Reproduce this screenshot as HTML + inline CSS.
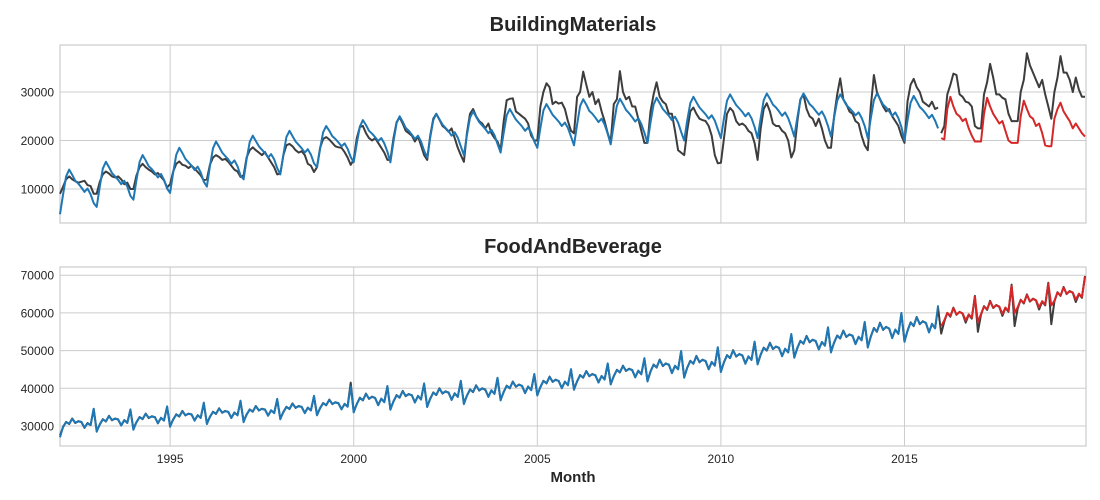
<!DOCTYPE html>
<html><head><meta charset="utf-8"><style>
html,body{margin:0;padding:0;background:#fff;}
svg{display:block;font-family:"Liberation Sans",sans-serif;}
</style></head><body>
<svg id="chart" width="1100" height="500"></svg>
<script>
const years=[1992,1995,2000,2005,2010,2015];
const xTickLabels=["1995","2000","2005","2010","2015"];
const xTickYears=[1995,2000,2005,2010,2015];
const topTicks=[10000,20000,30000];
const botTicks=[30000,40000,50000,60000,70000];
// BuildingMaterials (thousands), monthly from 1992-01
const bmActual=[
9.0,10.5,12.0,12.6,12.0,11.6,11.3,11.5,11.7,10.8,10.6,9.0,
9.0,11.5,13.0,13.6,13.2,12.6,12.4,12.6,12.0,11.0,11.3,10.0,
10.0,12.8,14.5,15.2,14.5,14.0,13.6,13.0,13.3,12.5,11.8,10.3,
11.0,13.6,15.2,15.7,15.0,14.8,14.3,14.8,14.2,13.5,12.8,11.8,
12.0,15.0,16.5,17.0,16.6,16.0,16.2,15.6,14.8,14.0,13.6,12.5,
12.8,16.5,18.0,18.6,18.0,17.5,17.0,17.6,16.5,15.5,14.5,13.0,
13.2,17.0,19.0,19.3,18.8,18.0,17.5,17.8,17.0,15.2,14.8,13.5,
14.5,18.5,20.3,20.7,20.2,19.5,18.8,18.6,18.5,17.6,16.5,15.0,
16.0,20.5,22.8,23.0,21.5,20.5,20.0,20.5,19.5,18.5,17.5,16.0,
16.0,20.5,23.8,24.8,23.5,22.0,21.5,21.0,19.8,20.8,19.0,17.0,
16.0,21.0,24.5,25.5,24.3,23.0,22.5,21.8,22.5,20.5,18.5,17.0,
15.6,21.5,25.5,26.5,25.0,24.0,23.5,22.5,23.5,21.5,20.5,19.8,
18.0,24.0,28.3,28.6,28.7,26.0,25.5,25.0,24.5,23.5,21.0,20.0,
20.0,27.0,30.0,31.8,31.0,27.5,28.0,27.6,27.8,26.5,24.0,22.0,
21.5,29.0,30.0,34.2,31.5,29.0,30.0,27.5,28.5,26.0,24.0,21.5,
19.7,27.5,28.5,34.3,30.0,28.5,29.0,27.0,27.0,24.5,22.0,19.5,
19.5,26.0,29.5,32.0,29.0,28.0,27.5,25.5,25.5,22.0,18.0,17.5,
17.0,22.0,26.0,26.8,25.5,24.5,24.2,24.0,23.0,21.0,17.0,15.3,
15.4,20.5,25.5,26.7,26.0,24.0,23.2,23.5,23.0,22.0,21.5,19.5,
16.0,22.5,26.5,27.7,26.0,23.5,23.0,23.0,22.0,21.5,20.0,16.5,
18.0,24.0,28.5,29.5,26.5,25.0,24.5,23.0,24.5,22.5,20.0,18.5,
18.5,25.0,29.5,32.8,28.5,27.5,26.0,25.5,24.0,23.5,21.0,19.0,
18.0,27.0,33.5,30.0,28.5,27.0,26.0,26.5,25.0,24.0,23.0,21.0,
19.5,28.0,31.5,32.7,31.0,30.0,28.0,27.5,27.0,28.0,26.5,26.8,
21.5,23.0,29.5,31.5,33.8,33.5,29.5,29.0,28.0,27.8,27.0,23.0,
22.5,22.5,29.5,32.0,35.8,33.0,29.5,29.5,28.8,28.5,25.5,24.0,
24.0,24.0,30.0,32.5,38.0,35.5,34.0,32.5,31.0,32.5,29.5,27.0,
24.5,30.0,33.0,37.4,34.0,34.0,32.5,30.0,33.0,30.5,29.0,29.0];
const bmFitted=[
4.8,8.9,12.6,14.0,12.9,11.7,11.1,10.3,9.4,10.1,8.9,7.1,
6.3,10.5,14.2,15.6,14.5,13.3,12.6,11.9,11.0,11.7,10.5,8.6,
7.8,11.9,15.6,17.0,15.9,14.7,14.1,13.3,12.4,13.1,11.9,10.1,
9.2,13.4,17.1,18.5,17.4,16.2,15.5,14.8,13.9,14.6,13.4,11.5,
10.5,14.7,18.4,19.8,18.7,17.5,16.8,16.1,15.2,15.9,14.7,12.8,
12.0,16.1,19.7,21.0,19.9,18.8,18.1,17.4,16.5,17.2,16.1,14.3,
13.0,17.1,20.7,22.0,20.9,19.8,19.1,18.4,17.5,18.2,17.1,15.3,
14.5,18.3,21.7,23.0,22.0,20.9,20.3,19.6,18.8,19.4,18.3,16.6,
15.5,19.4,22.9,24.2,23.2,22.0,21.4,20.7,19.9,20.5,19.4,17.7,
15.5,19.8,23.6,25.0,23.9,22.6,22.0,21.2,20.3,21.0,19.8,17.9,
16.5,20.6,24.2,25.5,24.4,23.3,22.6,21.9,21.0,21.7,20.6,18.8,
17.0,21.1,24.7,26.0,24.9,23.8,23.1,22.4,21.5,22.2,21.1,19.3,
17.5,21.6,25.2,26.5,25.4,24.3,23.6,22.9,22.0,22.7,21.6,19.8,
18.5,22.6,26.2,27.5,26.4,25.3,24.6,23.9,23.0,23.7,22.6,20.8,
19.0,23.3,27.1,28.5,27.4,26.1,25.5,24.7,23.8,24.5,23.3,21.4,
19.2,23.4,27.2,28.6,27.5,26.3,25.6,24.8,23.9,24.6,23.4,21.6,
19.5,23.7,27.4,28.8,27.7,26.5,25.8,25.1,24.2,24.9,23.7,21.8,
20.0,24.1,27.7,29.0,27.9,26.8,26.1,25.4,24.5,25.2,24.1,22.3,
20.5,24.6,28.2,29.5,28.4,27.3,26.6,25.9,25.0,25.7,24.6,22.8,
20.5,24.6,28.3,29.7,28.6,27.4,26.8,26.0,25.1,25.8,24.6,22.8,
20.8,24.8,28.4,29.7,28.6,27.5,26.9,26.1,25.3,26.0,24.8,23.0,
20.8,24.7,28.2,29.5,28.5,27.3,26.7,26.0,25.2,25.8,24.7,23.0,
20.5,24.6,28.3,29.7,28.6,27.4,26.8,26.0,25.1,25.8,24.6,22.8,
20.0,24.1,27.8,29.2,28.1,26.9,26.3,25.5,24.6,25.3,24.1,22.5];
const bmForecast=[
20.5,20.2,26.5,29.0,27.0,25.5,25.0,24.0,24.5,22.5,21.0,19.8,
19.8,19.8,25.5,28.8,27.0,25.5,24.5,23.5,24.0,22.0,20.0,19.5,
19.5,19.5,25.0,28.2,26.5,25.0,24.5,23.0,23.5,21.5,19.0,18.8,
18.8,24.5,26.5,27.8,26.0,25.0,24.0,22.5,23.5,22.5,21.5,20.8];
// FoodAndBeverage (thousands)
const fbActual=[
27.5,29.7,31.1,30.5,32.0,30.8,31.3,31.0,29.5,30.8,30.2,34.5,
28.7,30.4,31.8,31.2,32.7,31.5,32.0,31.7,30.2,31.5,30.9,34.2,
29.3,31.0,32.4,31.8,33.3,32.1,32.6,32.3,30.8,32.1,31.5,35.0,
30.0,31.7,33.1,32.5,34.0,32.8,33.3,33.0,31.5,32.8,32.2,36.0,
30.7,32.4,33.8,33.2,34.7,33.5,34.0,33.7,32.2,33.5,32.9,36.5,
31.3,33.0,34.4,33.8,35.3,34.1,34.6,34.3,32.8,34.1,33.5,37.0,
32.0,33.7,35.1,34.5,36.0,34.8,35.3,35.0,33.5,34.8,34.2,37.8,
33.0,34.7,36.1,35.5,37.0,35.8,36.3,36.0,34.5,35.8,35.2,41.5,
33.8,35.8,37.5,36.8,38.6,37.2,37.8,37.4,35.6,37.2,36.4,40.4,
34.5,36.5,38.2,37.5,39.3,37.9,38.5,38.1,36.3,37.9,37.1,41.1,
35.2,37.2,38.9,38.2,40.0,38.6,39.2,38.8,37.0,38.6,37.8,41.8,
36.0,38.0,39.7,39.0,40.8,39.4,40.0,39.6,37.8,39.4,38.6,42.6,
37.0,39.0,40.7,40.0,41.8,40.4,41.0,40.6,38.8,40.4,39.6,43.6,
38.3,40.3,42.0,41.3,43.1,41.7,42.3,41.9,40.1,41.7,40.9,44.9,
39.8,41.8,43.5,42.8,44.6,43.2,43.8,43.4,41.6,43.2,42.4,46.4,
41.2,43.2,44.9,44.2,46.0,44.6,45.2,44.8,43.0,44.6,43.8,47.8,
42.0,44.4,46.3,45.5,47.6,45.9,46.6,46.2,44.1,45.9,45.1,49.7,
43.0,45.4,47.3,46.5,48.6,46.9,47.6,47.2,45.1,46.9,46.1,50.7,
44.5,46.9,48.8,48.0,50.1,48.4,49.1,48.7,46.6,48.4,47.6,52.2,
46.5,48.9,50.8,50.0,52.1,50.4,51.1,50.7,48.6,50.4,49.6,54.2,
48.3,50.7,52.6,51.8,53.9,52.2,52.9,52.5,50.4,52.2,51.4,56.0,
49.7,52.1,54.0,53.2,55.3,53.6,54.3,53.9,51.8,53.6,52.8,57.4,
51.0,53.7,56.0,55.0,57.4,55.5,56.3,55.8,53.4,55.5,54.5,59.8,
52.5,55.2,57.5,56.5,58.9,57.0,57.8,57.3,54.9,57.0,56.0,61.3,
54.5,57.7,60.0,59.0,61.4,59.5,60.3,59.8,57.4,59.5,58.5,64.5,
55.0,59.5,61.8,60.8,63.2,61.3,62.1,61.6,59.2,61.3,60.3,67.5,
56.5,61.2,63.5,62.5,64.9,63.0,63.8,63.3,60.9,63.0,62.0,68.0,
57.0,63.0,65.5,64.5,66.9,65.0,65.8,65.3,62.9,65.0,64.0,69.8];
const fbFitted=[
27.0,29.9,31.0,30.6,31.9,30.9,31.2,31.1,29.6,30.7,30.3,34.6,
28.5,30.5,31.7,31.3,32.6,31.6,31.9,31.8,30.1,31.6,30.8,34.4,
29.0,31.1,32.3,31.9,33.2,32.2,32.5,32.4,30.7,32.2,31.4,35.2,
29.8,31.8,33.0,32.6,33.9,32.9,33.2,33.1,31.4,32.9,32.1,36.2,
30.5,32.5,33.7,33.3,34.6,33.6,33.9,33.8,32.1,33.6,32.8,36.7,
31.0,33.1,34.3,33.9,35.2,34.2,34.5,34.4,32.7,34.2,33.4,37.2,
31.8,33.8,35.0,34.6,35.9,34.9,35.2,35.1,33.4,34.9,34.1,38.0,
32.8,34.8,36.0,35.6,36.9,35.9,36.2,36.1,34.4,35.9,35.1,40.5,
33.6,35.9,37.4,36.9,38.5,37.3,37.7,37.5,35.5,37.3,36.3,40.6,
34.3,36.6,38.1,37.6,39.2,38.0,38.4,38.2,36.2,38.0,37.0,41.3,
35.0,37.3,38.8,38.3,39.9,38.7,39.1,38.9,36.9,38.7,37.7,42.0,
35.8,38.1,39.6,39.1,40.7,39.5,39.9,39.7,37.7,39.5,38.5,42.8,
36.8,39.1,40.6,40.1,41.7,40.5,40.9,40.7,38.7,40.5,39.5,43.8,
38.1,40.4,41.9,41.4,43.0,41.8,42.2,42.0,40.0,41.8,40.8,45.1,
39.6,41.9,43.4,42.9,44.5,43.3,43.7,43.5,41.5,43.3,42.3,46.6,
41.0,43.3,44.8,44.3,45.9,44.7,45.1,44.9,42.9,44.7,43.7,48.0,
41.8,44.5,46.2,45.6,47.5,46.0,46.5,46.3,44.0,46.0,45.0,49.9,
42.8,45.5,47.2,46.6,48.5,47.0,47.5,47.3,45.0,47.0,46.0,50.9,
44.3,47.0,48.7,48.1,50.0,48.5,49.0,48.8,46.5,48.5,47.5,52.4,
46.3,49.0,50.7,50.1,52.0,50.5,51.0,50.8,48.5,50.5,49.5,54.4,
48.1,50.8,52.5,51.9,53.8,52.3,52.8,52.6,50.3,52.3,51.3,56.2,
49.5,52.2,53.9,53.3,55.2,53.7,54.2,54.0,51.7,53.7,52.7,57.6,
50.8,53.8,55.9,55.1,57.3,55.6,56.2,55.9,53.3,55.6,54.4,60.0,
52.3,55.3,57.4,56.6,58.8,57.1,57.7,57.4,54.8,57.1,55.9,62.0];
const fbForecast=[
56.5,58.0,60.0,59.2,61.3,59.6,60.2,59.9,58.0,59.6,58.7,64.3,
57.5,59.7,61.7,61.0,63.0,61.4,62.0,61.7,59.7,61.4,60.5,67.2,
60.0,61.5,63.4,62.7,64.7,63.1,63.7,63.4,61.5,63.1,62.2,67.8,
62.0,63.2,65.4,64.6,66.7,65.1,65.7,65.4,63.5,65.1,64.2,69.6];

const NS="http://www.w3.org/2000/svg";
const svg=document.getElementById('chart');
function mk(tag,attrs,parent){const e=document.createElementNS(NS,tag);for(const k in attrs)e.setAttribute(k,attrs[k]);(parent||svg).appendChild(e);return e;}
const X0=60,X1=1086,YR0=1992,YR1=2019+11/12;
function xScale(t){return X0+(t-YR0)/(YR1-YR0)*(X1-X0-1);}
const panels=[
 {name:'building-materials',title:'BuildingMaterials',top:45,bot:223,v0:10000,y0:189,v1:30000,y1:92,ticks:topTicks,
  series:[[bmActual.slice(0,288),1992,'#3d3d3d','actual-line-history'],[bmActual.slice(288),2016,'#3d3d3d','actual-line-future'],[bmFitted,1992,'#1f77b4','fitted-line'],[bmForecast,2016,'#d62728','forecast-line']]},
 {name:'food-and-beverage',title:'FoodAndBeverage',top:267,bot:446,v0:30000,y0:426,v1:70000,y1:275.2,ticks:botTicks,
  series:[[fbActual,1992,'#3d3d3d','actual-line'],[fbFitted,1992,'#1f77b4','fitted-line'],[fbForecast,2016,'#d62728','forecast-line']]}
];
panels.forEach(p=>{
 const g=mk('g',{});
 
 
 const yS=v=>p.y0+(v-p.v0)*(p.y1-p.y0)/(p.v1-p.v0);
 const t=mk('text',{x:573,y:p.top-14,'text-anchor':'middle','font-size':'20','font-weight':'bold',fill:'#262626'},g);
 t.textContent=p.title;
 
 
 xTickYears.forEach((yr,i)=>{
  const x=xScale(yr);
  const l=mk('line',{x1:x,x2:x,y1:p.top,y2:p.bot,stroke:'#cccccc','stroke-width':1},g);
  
  
 });
 p.ticks.forEach(v=>{
  const y=yS(v);
  const l=mk('line',{x1:X0,x2:X1,y1:y,y2:y,stroke:'#cccccc','stroke-width':1},g);
  
  
  const tx=mk('text',{x:54,y:y+4.5,'text-anchor':'end','font-size':'12',fill:'#262626'},g);
  tx.textContent=String(v);
  
  
 });
 const fr=mk('rect',{x:X0,y:p.top,width:X1-X0,height:p.bot-p.top,fill:'none',stroke:'#cccccc','stroke-width':1.2},g);
 
 
 p.series.forEach(s=>{
  const [vals,start,col,nm]=s;
  const pts=vals.map((v,i)=>xScale(start+i/12).toFixed(1)+','+yS(v*1000).toFixed(1)).join(' ');
  const pl=mk('polyline',{points:pts,fill:'none',stroke:col,'stroke-width':2,'stroke-linejoin':'round'},g);
  
  
 });
});
xTickYears.forEach((yr,i)=>{
 const tx=mk('text',{x:xScale(yr),y:463,'text-anchor':'middle','font-size':'12',fill:'#262626'});
 tx.textContent=xTickLabels[i];
 
 
});
const xl=mk('text',{x:573,y:482,'text-anchor':'middle','font-size':'15','font-weight':'bold',fill:'#262626'});
xl.textContent='Month';


</script>
</body></html>
